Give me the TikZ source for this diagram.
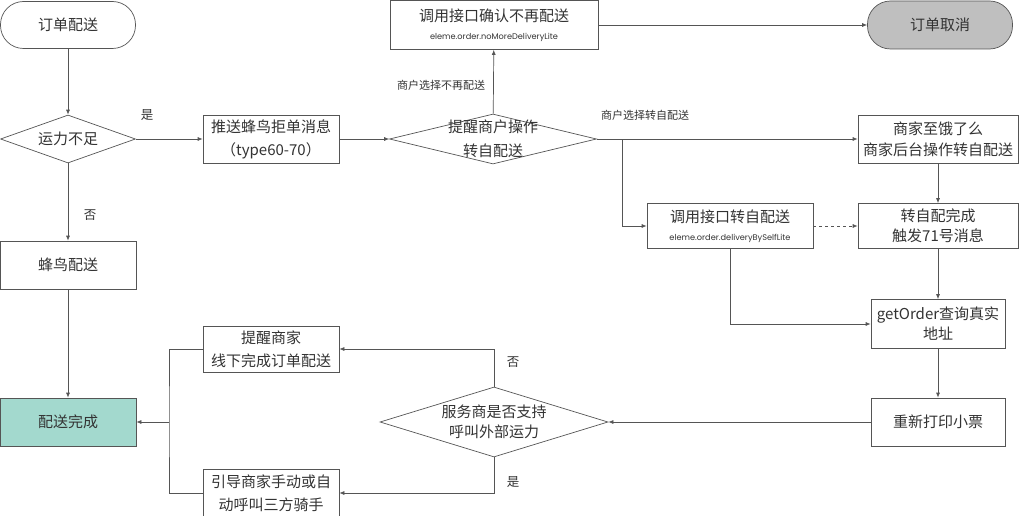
\documentclass[tikz,border=0pt]{standalone}
\usepackage{fontspec}
\setmainfont{Noto Sans CJK SC}
\newfontfamily\apifont{Poppins}
\usepackage{tikz}
\usetikzlibrary{arrows.meta, shapes.geometric, positioning}
\usepackage{xcolor}
\definecolor{flowline}{HTML}{555555}
\definecolor{flowtext}{HTML}{333333}
\definecolor{donefill}{HTML}{A3D9CE}
\definecolor{cancelfill}{HTML}{BFBFBF}
\tikzset{%
	every flow box/.style={
		draw=flowline,
		line width=0.7pt,
		text=flowtext,
		align=center,
		inner sep=2pt,
		font=\fontsize{15}{23}\selectfont
	},
	procbox/.style={
		every flow box,
		rectangle,
		minimum width=136pt,
		minimum height=48pt
	},
	termbox/.style={
		every flow box,
		rectangle,
		rounded corners=23pt,
		minimum width=135pt,
		minimum height=47pt
	},
	decide/.style={
		every flow box,
		diamond,
		aspect=2.8,
		inner sep=-8pt,
		minimum width=135pt,
		minimum height=48pt
	},
	flowarrow/.style={draw=flowline, line width=0.7pt, -{Latex[length=5pt,width=4pt]}},
	flowlink/.style={draw=flowline, line width=0.7pt},
	choice/.style={text=flowtext, font=\fontsize{12.5}{14}\selectfont},
	pick/.style={text=flowtext, font=\fontsize{11}{13}\selectfont},
}

\begin{document}
\begin{tikzpicture}[x=1pt, y=-1pt]
			% Page size of the reference
			\fill[white] (0,0) rectangle (1024,516);
			\useasboundingbox (0,0) rectangle (1024,516);
			% Small second line with the API name
			\newcommand{\apiName}[1]{{\apifont\fontsize{8.2}{10}\selectfont #1}}
			
			% Left column
			\node[termbox] (start) at (68,25) {订单配送};
			\node[decide] (q1) at (68,139) {运力不足};
			\node[procbox] (fengniao) at (68,265) {蜂鸟配送};
			\node[procbox, fill=donefill] (done) at (68,422) {配送完成};
			
			% Middle column
			\node[procbox] (push) at (271,139) {推送蜂鸟拒单消息\\（type60-70）};
			\node[decide, aspect=4.1, minimum width=207pt, minimum height=50pt, font=\fontsize{15}{24.5}\selectfont] (q2) at (493,139) {提醒商户操作\\转自配送};
			\node[procbox, minimum width=208pt, minimum height=49pt] (nomore) at (494,25) {调用接口确认不再配送\\[-5pt]\apiName{eleme.order.noMoreDeliveryLite}};
			\node[procbox, minimum height=46pt] (remind) at (271,349) {提醒商家\\线下完成订单配送};
			\node[procbox] (guide) at (271,493) {引导商家手动或自\\动呼叫三方骑手};
			\node[decide, aspect=3.3, minimum width=228pt, minimum height=70pt, font=\fontsize{15}{20}\selectfont] (q3) at (494,422) {服务商是否支持\\呼叫外部运力};
			
			% Right column
			\node[termbox, fill=cancelfill, minimum width=145pt, minimum height=48pt] (cancel) at (940,25) {订单取消};
			\node[procbox, minimum width=160pt, font=\fontsize{15}{21}\selectfont] (eleme) at (938,139) {商家至饿了么\\商家后台操作转自配送};
			\node[procbox, minimum width=166pt, minimum height=45pt] (selfapi) at (730,226) {调用接口转自配送\\[-5pt]\apiName{eleme.order.deliveryBySelfLite}};
			\node[procbox, minimum width=160pt, minimum height=45pt, font=\fontsize{15}{20}\selectfont] (selfdone) at (938,226) {转自配完成\\触发71号消息};
			\node[procbox, minimum width=134pt, minimum height=49pt, font=\fontsize{15}{20}\selectfont] (getorder) at (938,324) {getOrder查询真实\\地址};
			\node[procbox, minimum width=134pt] (reprint) at (938,422) {重新打印小票};
			
			% Straight connectors
			\foreach \from/\to in {start/q1, q1/push, q1/fengniao, fengniao/done, push/q2, q2/nomore, nomore/cancel, q2/eleme, eleme/selfdone, selfdone/getorder, getorder/reprint, reprint/q3} {
				\draw[flowarrow] (\from) -- (\to);
			}
			\draw[flowarrow, dashed] (selfapi) -- (selfdone);
			
			% Elbow connectors
			\coordinate (split) at (622,139);
			\draw[flowarrow] (split) |- (selfapi.west);
			\draw[flowarrow] (selfapi.south) |- (getorder.west);
			\draw[flowarrow] (q3.north) |- (remind.east);
			\draw[flowarrow] (q3.south) |- (guide.east);
			\coordinate (merge) at (169,422);
			\draw[flowlink] (remind.west) -| (merge) |- (guide.west);
			\draw[flowarrow] (merge) -- (done.east);
			
			% Branch labels
			\node[choice] (yes1) at (147,115) {是};
			\node[choice] (no1) at (90,215) {否};
			\node[pick] (pickstop) at (441,85) {商户选择不再配送};
			\node[pick] (pickself) at (645,115) {商户选择转自配送};
			\node[choice] (no3) at (513,362) {否};
			\node[choice] (yes3) at (513,482) {是};
		\end{tikzpicture}
\end{document}
